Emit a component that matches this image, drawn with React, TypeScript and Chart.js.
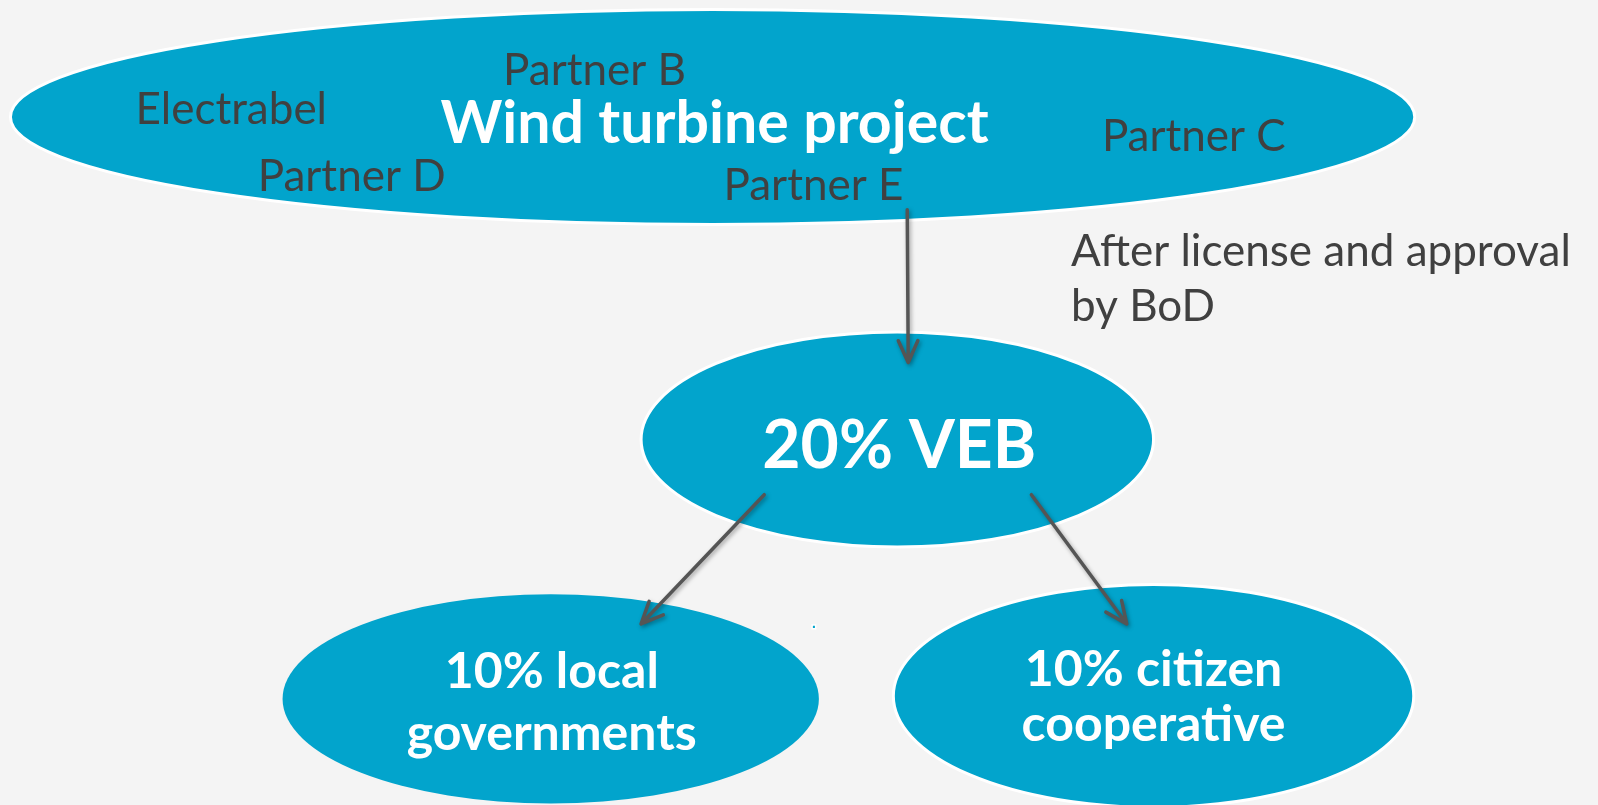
import React, { useEffect, useRef } from "react";
import { Chart, registerables } from "chart.js";

Chart.register(...registerables);

// ---- Diagram data (in data units of a 1598 x 805 coordinate space) ----
const nodeLabels: string[][] = [
  ["Wind turbine project"],
  ["20% VEB"],
  ["10% local", "governments"],
  ["10% citizen", "cooperative"],
];
const nodeCx = [712, 898, 549, 1156];
const nodeCy = [113, 440, 703, 700];
const nodeRx = [707, 258, 270, 262];
const nodeRy = [109, 109, 106, 113];
const nodeBorder = [3, 3, 0, 3];
const nodeTextCx = [714, 900, 550, 1156];
const nodeTextBaseline = [139, 469, 692, 690];
const nodeLineGap = [0, 0, 63, 56];
const nodeFontSize = [59, 66, 50, 50];

const partnerNames = ["Partner B", "Electrabel", "Partner D", "Partner E", "Partner C"];
const partnerX = [501, 131, 254, 723, 1104];
const partnerY = [81, 120, 188, 197, 148];

const noteLines = ["After license and approval", "by BoD"];
const noteX = 1073;
const noteY = [264, 320];

const arrowFromX = [908, 764, 1033];
const arrowFromY = [207, 496, 496];
const arrowToX = [909, 640, 1129];
const arrowToY = [362, 627, 627];

const dotX = [814];
const dotY = [630];

const FILL = "#02a4cc";
const TEXT_DARK = "#404040";
const ARROW = "#555555";
const FONT = "Lato, 'Open Sans', sans-serif";

const diagramPlugin = {
  id: "diagram",
  beforeDatasetsDraw(chart: any) {
    const { ctx } = chart;
    const xs = chart.scales.x;
    const ys = chart.scales.y;
    const px = (v: number) => xs.getPixelForValue(v);
    const py = (v: number) => ys.getPixelForValue(v);
    const sx = (v: number) => Math.abs(xs.getPixelForValue(v) - xs.getPixelForValue(0));
    const sy = (v: number) => Math.abs(ys.getPixelForValue(v) - ys.getPixelForValue(0));

    for (let i = 0; i < nodeCx.length; i++) {
      ctx.save();
      ctx.beginPath();
      ctx.ellipse(px(nodeCx[i]), py(nodeCy[i]), sx(nodeRx[i]), sy(nodeRy[i]), 0, 0, Math.PI * 2);
      ctx.fillStyle = FILL;
      ctx.fill();
      if (nodeBorder[i] > 0) {
        ctx.lineWidth = nodeBorder[i];
        ctx.strokeStyle = "#ffffff";
        ctx.stroke();
      }
      ctx.restore();
    }

    for (let i = 0; i < arrowFromX.length; i++) {
      const x1 = px(arrowFromX[i]);
      const y1 = py(arrowFromY[i]);
      const x2 = px(arrowToX[i]);
      const y2 = py(arrowToY[i]);
      const ang = Math.atan2(y2 - y1, x2 - x1);
      const head = 24;
      const spread = 0.42;
      ctx.save();
      ctx.shadowColor = "rgba(0,0,0,0.35)";
      ctx.shadowBlur = 4;
      ctx.shadowOffsetX = 1.5;
      ctx.shadowOffsetY = 2;
      ctx.strokeStyle = ARROW;
      ctx.lineWidth = 3.5;
      ctx.lineCap = "round";
      ctx.lineJoin = "round";
      ctx.beginPath();
      ctx.moveTo(x1, y1);
      ctx.lineTo(x2, y2);
      ctx.moveTo(x2 - head * Math.cos(ang - spread), y2 - head * Math.sin(ang - spread));
      ctx.lineTo(x2, y2);
      ctx.lineTo(x2 - head * Math.cos(ang + spread), y2 - head * Math.sin(ang + spread));
      ctx.stroke();
      ctx.restore();
    }
  },
  afterDatasetsDraw(chart: any) {
    const { ctx } = chart;
    const xs = chart.scales.x;
    const ys = chart.scales.y;
    const px = (v: number) => xs.getPixelForValue(v);
    const py = (v: number) => ys.getPixelForValue(v);

    ctx.save();
    ctx.fillStyle = TEXT_DARK;
    ctx.textAlign = "left";
    ctx.textBaseline = "alphabetic";
    ctx.font = `400 44px ${FONT}`;
    for (let i = 0; i < partnerNames.length; i++) {
      ctx.fillText(partnerNames[i], px(partnerX[i]), py(partnerY[i]));
    }
    ctx.font = `400 44px ${FONT}`;
    for (let i = 0; i < noteLines.length; i++) {
      ctx.fillText(noteLines[i], px(noteX), py(noteY[i]));
    }
    ctx.fillStyle = "#ffffff";
    ctx.textAlign = "center";
    for (let i = 0; i < nodeLabels.length; i++) {
      ctx.font = `700 ${nodeFontSize[i]}px ${FONT}`;
      const lines = nodeLabels[i];
      for (let j = 0; j < lines.length; j++) {
        ctx.fillText(lines[j], px(nodeTextCx[i]), py(nodeTextBaseline[i] + j * nodeLineGap[i]));
      }
    }
    ctx.restore();
  },
};

export default function App() {
  const ref = useRef<HTMLCanvasElement | null>(null);
  useEffect(() => {
    if (!ref.current) return;
    const chart = new Chart(ref.current, {
      type: "scatter",
      data: {
        datasets: [
          {
            data: dotX.map((x, i) => ({ x, y: dotY[i] })),
            pointStyle: "rect",
            pointRadius: 2.5,
            backgroundColor: FILL,
            borderColor: "#ffffff",
            borderWidth: 1.5,
          },
        ],
      },
      options: {
        responsive: false,
        animation: false,
        devicePixelRatio: 1,
        layout: { padding: 0 },
        plugins: { legend: { display: false }, tooltip: { enabled: false } },
        scales: {
          x: { type: "linear", min: 0, max: 1598, display: false },
          y: { type: "linear", min: 0, max: 805, reverse: true, display: false },
        },
      },
      plugins: [diagramPlugin],
    });
    return () => chart.destroy();
  }, []);
  return (
    <div style={{ position: "fixed", left: 0, top: 0, width: 1598, height: 805, background: "#f4f4f4" }}>
      <canvas ref={ref} width={1598} height={805} style={{ display: "block" }} />
    </div>
  );
}
